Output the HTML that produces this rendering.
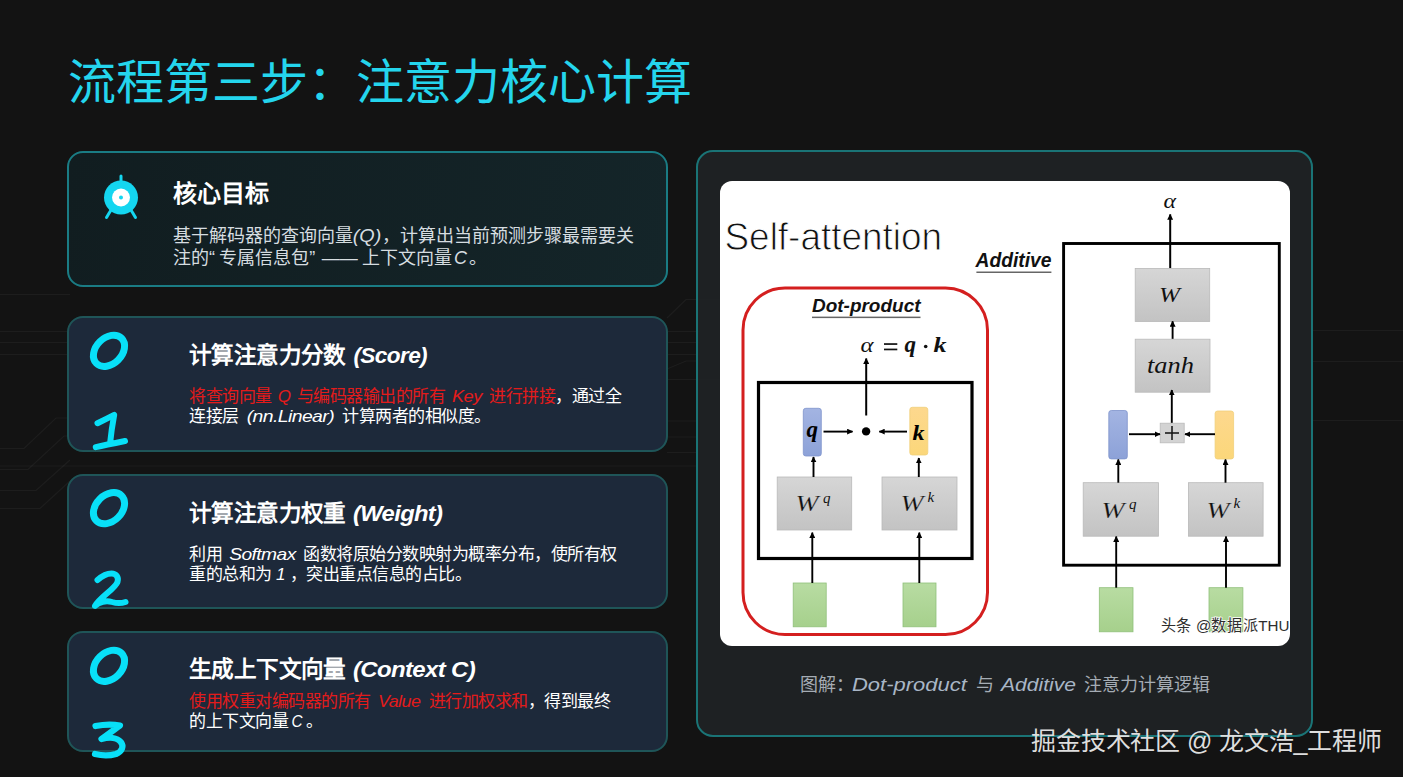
<!DOCTYPE html>
<html lang="zh-CN"><head><meta charset="utf-8">
<style>
html,body{margin:0;padding:0}
body{width:1403px;height:777px;overflow:hidden;background:#131313;position:relative;font-family:"Liberation Sans",sans-serif}
.abs{position:absolute}
.title{left:68px;top:52.5px;font-size:48px;color:#24d5ed;white-space:nowrap;line-height:60px}
.card{position:absolute;left:66.5px;width:601px;box-sizing:border-box;border-radius:16px}
#c0{top:150.5px;height:136.5px;border:2px solid #1a7c84;background:linear-gradient(100deg,#111d20,#142529)}
#c1{top:316px;height:136px;border:2px solid #1f5558;background:#1d293a}
#c2{top:473.5px;height:135.5px;border:2px solid #1f5558;background:#1d293a}
#c3{top:631px;height:120.5px;border:2px solid #1f5558;background:#1d293a}
.ht{position:absolute;font-weight:bold;color:#fff;white-space:nowrap}
.bt{position:absolute;color:#fff;white-space:nowrap}
.red{color:#e31b1b}
.g{display:inline-block;white-space:nowrap;text-align:center}
.g>i{display:inline-block;font-style:italic;font-family:"Liberation Sans",sans-serif}
.gl{text-align:left}
.gl>i{transform-origin:left center}
#panel{position:absolute;left:696px;top:150px;width:617px;height:587px;box-sizing:border-box;border:2px solid #1a7476;border-radius:17px;background:rgba(32,35,37,0.88)}
#img{position:absolute;left:720px;top:181px;width:570px;height:465px;background:#fff;border-radius:12px}
.cap{position:absolute;top:674px;font-size:18px;line-height:22px;color:#a5acb4;white-space:nowrap}
.caph{font-style:italic;color:#a9b6c6}
.wm{position:absolute;left:1031px;top:720.5px;font-size:25px;letter-spacing:-0.15px;color:#dedede;white-space:nowrap}
</style></head><body>


<svg class="abs" style="left:0;top:0" width="1403" height="777" viewBox="0 0 1403 777">
<g fill="none" stroke="#ffffff" stroke-opacity="0.045" stroke-width="1.2">
  <path d="M0,294.5 H70"/>
  <path d="M0,331.5 H700"/>
  <path d="M0,342.5 H700"/>
  <path d="M0,354.5 H700"/>
  <path d="M1312,330.5 H1403"/>
  <path d="M1312,361.5 H1403"/>
  <path d="M1312,420.5 H1403"/>
  <path d="M667,318 L686,299.5 H720"/>
  <path d="M667,369 L686,361 H720"/>
  <path d="M667,379.5 H720"/>
  <path d="M667,421 H720"/>
  <path d="M667,437 H720"/>
  <path d="M667,452.5 H697"/>
  <path d="M0,466 H720"/>
  <path d="M0,448.5 H24 L56,418 H70"/>
  <path d="M0,469.5 H28 L64,436 H70"/>
  <path d="M0,490.5 H36 L70,460"/>
  <path d="M0,508.5 H40 L70,481"/>
</g>
</svg>

<div class="abs title">流程第三步：注意力核心计算</div>

<div class="card" id="c0"></div>
<div class="card" id="c1"></div>
<div class="card" id="c2"></div>
<div class="card" id="c3"></div>

<div class="ht" style="left:173px;top:180px;font-size:24px;line-height:28px">核心目标</div>
<div class="bt" style="left:173px;top:225px;font-size:18px;line-height:22px;color:#d6dde0">基于解码器的查询向量<span class="g" style="width:28.9px"><i style="transform:scaleX(1.1)">(Q)</i></span>，计算出当前预测步骤最需要关<br>注的<span class="g gl" style="width:10.2px">“</span>专属信息包<span class="g gl" style="width:10px">”</span><span class="g gl" style="width:42.4px;padding-left:2.6px;box-sizing:border-box">——</span>上下文向量<span class="g" style="width:17.9px"><i>C</i></span>。</div>

<div class="ht" style="left:189px;top:342px;font-size:22.6px;letter-spacing:-0.6px;line-height:28px">计算注意力分数<span class="g gl" style="width:86.3px;padding-left:7.6px;box-sizing:border-box"><i>(Score)</i></span></div>
<div class="bt" style="left:189px;top:387px;font-size:17px;letter-spacing:-0.5px;line-height:20.3px"><span class="red">将查询向量<span class="g" style="width:25.3px"><i>Q</i></span>与编码器输出的所有<span class="g" style="width:44.1px"><i style="transform:scaleX(1.07)">Key</i></span>进行拼接</span>，通过全<br>连接层<span class="g" style="width:103.8px"><i style="transform:scaleX(1.14)">(nn.Linear)</i></span>计算两者的相似度。</div>

<div class="ht" style="left:189px;top:499.5px;font-size:22.6px;letter-spacing:-0.6px;line-height:28px">计算注意力权重<span class="g gl" style="width:103.3px;padding-left:7.6px;box-sizing:border-box"><i style="transform:scaleX(1.05)">(Weight)</i></span></div>
<div class="bt" style="left:189px;top:545px;font-size:17px;letter-spacing:-0.5px;line-height:20.3px">利用<span class="g" style="width:81.2px"><i style="transform:scaleX(1.13)">Softmax</i></span>函数将原始分数映射为概率分布，使所有权<br>重的总和为<span class="g" style="width:18.2px"><i>1</i></span>，突出重点信息的占比。</div>

<div class="ht" style="left:189px;top:655.5px;font-size:22.6px;letter-spacing:-0.6px;line-height:28px">生成上下文向量<span class="g gl" style="width:137px;padding-left:7.6px;box-sizing:border-box"><i style="transform:scaleX(1.06)">(Context C)</i></span></div>
<div class="bt" style="left:189px;top:691.5px;font-size:17px;letter-spacing:-0.5px;line-height:20.3px"><span class="red">使用权重对编码器的所有<span class="g" style="width:58.2px"><i style="transform:scaleX(1.05)">Value</i></span>进行加权求和</span>，得到最终<br>的上下文向量<span class="g" style="width:18.2px"><i style="transform:scaleX(0.9)">C</i></span>。</div>

<div id="panel"></div>
<div id="img"></div>

<svg class="abs" style="left:0;top:0" width="1403" height="777" viewBox="0 0 1403 777">
<defs>
  <linearGradient id="gg" x1="0" y1="0" x2="0" y2="1"><stop offset="0" stop-color="#d6d6d6"/><stop offset="1" stop-color="#c3c3c3"/></linearGradient>
  <linearGradient id="gb" x1="0" y1="0" x2="0" y2="1"><stop offset="0" stop-color="#a3b4e2"/><stop offset="1" stop-color="#8da2d8"/></linearGradient>
  <linearGradient id="gy" x1="0" y1="0" x2="0" y2="1"><stop offset="0" stop-color="#fdd88e"/><stop offset="1" stop-color="#fbd77a"/></linearGradient>
  <linearGradient id="gr" x1="0" y1="0" x2="0" y2="1"><stop offset="0" stop-color="#b8dca2"/><stop offset="1" stop-color="#a6d08c"/></linearGradient>
  <marker id="ah" viewBox="0 0 10 10" refX="9" refY="5" markerWidth="6" markerHeight="6" markerUnits="userSpaceOnUse" orient="auto"><path d="M0,0 L10,5 L0,10 z" fill="#000"/></marker>
</defs>
<g fill="none" stroke="#14d6f0" stroke-width="3" stroke-linecap="round">
  <line x1="121" y1="176" x2="121" y2="182"/>
  <line x1="111" y1="210" x2="106.5" y2="217.5"/>
  <line x1="131" y1="210" x2="135.5" y2="217.5"/>
</g>
<circle cx="121" cy="197.5" r="17" fill="#14d6f0"/>
<circle cx="121" cy="197.5" r="9" fill="#fff"/>
<circle cx="121" cy="197.5" r="2" fill="#14d6f0"/>
<!-- Self-attention title -->
<text x="724.5" y="249.6" font-family="Liberation Sans" font-size="38.5" fill="#111" stroke="#fff" stroke-width="0.9" textLength="217.5" lengthAdjust="spacingAndGlyphs">Self-attention</text>

<!-- Dot-product -->
<rect x="743" y="288" width="244.5" height="346.5" rx="42" fill="none" stroke="#d41f1f" stroke-width="3"/>
<text x="812" y="312" font-family="Liberation Sans" font-weight="bold" font-style="italic" font-size="18.5" fill="#111" textLength="108.5" lengthAdjust="spacingAndGlyphs">Dot-product</text>
<rect x="812" y="316.6" width="108.5" height="1.5" fill="#666"/>
<text x="860.5" y="352" font-family="Liberation Serif" font-style="italic" font-size="22" fill="#111" textLength="13" lengthAdjust="spacingAndGlyphs">α</text>
<rect x="884" y="343.2" width="13.3" height="1.7" fill="#111"/><rect x="884" y="348.6" width="13.3" height="1.7" fill="#111"/>
<text x="904.5" y="352" font-family="Liberation Serif" font-weight="bold" font-style="italic" font-size="23" fill="#111">q</text>
<circle cx="925.7" cy="346.5" r="1.8" fill="#111"/>
<text x="933.5" y="352" font-family="Liberation Serif" font-weight="bold" font-style="italic" font-size="21" fill="#111" textLength="13" lengthAdjust="spacingAndGlyphs">k</text>
<rect x="758.5" y="382.5" width="213.5" height="176" fill="none" stroke="#000" stroke-width="3.2"/>
<line x1="866.2" y1="415.5" x2="866.2" y2="358.5" stroke="#000" stroke-width="2" marker-end="url(#ah)"/>
<rect x="803.3" y="408.3" width="18" height="47.7" rx="2.5" fill="url(#gb)" stroke="#7e93cc" stroke-width="0.8"/>
<rect x="909.8" y="407.3" width="18" height="47.7" rx="2.5" fill="url(#gy)" stroke="#f0cf7a" stroke-width="0.8"/>
<text x="806.5" y="437" font-family="Liberation Serif" font-weight="bold" font-style="italic" font-size="23" fill="#000">q</text>
<text x="912.5" y="439.5" font-family="Liberation Serif" font-weight="bold" font-style="italic" font-size="22" fill="#000" textLength="12" lengthAdjust="spacingAndGlyphs">k</text>
<circle cx="866.1" cy="431.4" r="4.2" fill="#000"/>
<line x1="823.5" y1="431.6" x2="852.5" y2="431.6" stroke="#000" stroke-width="1.9" marker-end="url(#ah)"/>
<line x1="907" y1="431.6" x2="879.3" y2="431.6" stroke="#000" stroke-width="1.9" marker-end="url(#ah)"/>
<rect x="777.2" y="477" width="74.5" height="53" fill="url(#gg)" stroke="#b9b9b9" stroke-width="0.8"/>
<rect x="882" y="477" width="75" height="53" fill="url(#gg)" stroke="#b9b9b9" stroke-width="0.8"/>
<text x="795.5" y="511.2" font-family="Liberation Serif" font-style="italic" font-size="22.5" fill="#111" stroke="#d0d0d0" stroke-width="0.2" textLength="23" lengthAdjust="spacingAndGlyphs">W</text>
<text x="823.0" y="502.5" font-family="Liberation Serif" font-style="italic" font-size="15" fill="#111">q</text>
<text x="900.5" y="511.2" font-family="Liberation Serif" font-style="italic" font-size="22.5" fill="#111" stroke="#d0d0d0" stroke-width="0.2" textLength="23" lengthAdjust="spacingAndGlyphs">W</text>
<text x="927.5" y="501.5" font-family="Liberation Serif" font-style="italic" font-size="15" fill="#111">k</text>
<line x1="813.5" y1="477" x2="813.5" y2="457" stroke="#000" stroke-width="1.9" marker-end="url(#ah)"/>
<line x1="918.8" y1="477" x2="918.8" y2="458" stroke="#000" stroke-width="1.9" marker-end="url(#ah)"/>
<rect x="793.2" y="583" width="33" height="43.8" fill="url(#gr)" stroke="#8fc07a" stroke-width="0.8"/>
<rect x="903" y="583" width="33" height="43.8" fill="url(#gr)" stroke="#8fc07a" stroke-width="0.8"/>
<line x1="812.3" y1="583" x2="812.3" y2="532.6" stroke="#000" stroke-width="1.9" marker-end="url(#ah)"/>
<line x1="919.3" y1="583" x2="919.3" y2="532.6" stroke="#000" stroke-width="1.9" marker-end="url(#ah)"/>

<!-- Additive -->
<text x="975.5" y="267" font-family="Liberation Sans" font-weight="bold" font-style="italic" font-size="19.5" fill="#111" textLength="76" lengthAdjust="spacingAndGlyphs">Additive</text>
<rect x="976.4" y="271.5" width="75" height="1.5" fill="#666"/>
<text x="1163.5" y="208" font-family="Liberation Serif" font-style="italic" font-size="21" fill="#111" textLength="12.5" lengthAdjust="spacingAndGlyphs">α</text>
<rect x="1063.6" y="243.5" width="215.7" height="321.7" fill="none" stroke="#000" stroke-width="2.9"/>
<line x1="1170.2" y1="268.4" x2="1170.2" y2="214.4" stroke="#000" stroke-width="2" marker-end="url(#ah)"/>
<rect x="1135.2" y="268.4" width="74.5" height="53.1" fill="url(#gg)" stroke="#b9b9b9" stroke-width="0.8"/>
<text x="1159" y="302.4" font-family="Liberation Serif" font-style="italic" font-size="22" fill="#111" textLength="21" lengthAdjust="spacingAndGlyphs">W</text>
<line x1="1172.6" y1="339" x2="1172.6" y2="321.3" stroke="#000" stroke-width="1.9" marker-end="url(#ah)"/>
<rect x="1135.2" y="339.2" width="74.8" height="53" fill="url(#gg)" stroke="#b9b9b9" stroke-width="0.8"/>
<text x="1147" y="373.3" font-family="Liberation Serif" font-style="italic" font-size="22.5" fill="#111" textLength="47" lengthAdjust="spacingAndGlyphs">tanh</text>
<line x1="1171.8" y1="423" x2="1171.8" y2="390" stroke="#000" stroke-width="1.9" marker-end="url(#ah)"/>
<rect x="1160.2" y="423.2" width="24" height="19.6" fill="#d3d3d3" stroke="#b9b9b9" stroke-width="0.8"/>
<path d="M1165,433 h14 M1172,426 v14" stroke="#111" stroke-width="1.5"/>
<rect x="1108.8" y="410.5" width="18.5" height="48.4" rx="2.5" fill="url(#gb)" stroke="#7e93cc" stroke-width="0.8"/>
<rect x="1215.1" y="411" width="18.5" height="48" rx="2.5" fill="url(#gy)" stroke="#f0cf7a" stroke-width="0.8"/>
<line x1="1129" y1="434.2" x2="1160" y2="434.2" stroke="#000" stroke-width="1.9" marker-end="url(#ah)"/>
<line x1="1215" y1="434.2" x2="1185" y2="434.2" stroke="#000" stroke-width="1.9" marker-end="url(#ah)"/>
<rect x="1083.2" y="482.7" width="75.3" height="53.5" fill="url(#gg)" stroke="#b9b9b9" stroke-width="0.8"/>
<rect x="1188.4" y="482.7" width="74.7" height="53.5" fill="url(#gg)" stroke="#b9b9b9" stroke-width="0.8"/>
<text x="1101.5" y="517.5" font-family="Liberation Serif" font-style="italic" font-size="22.5" fill="#111" stroke="#d0d0d0" stroke-width="0.2" textLength="23" lengthAdjust="spacingAndGlyphs">W</text>
<text x="1129.0" y="508.5" font-family="Liberation Serif" font-style="italic" font-size="15" fill="#111">q</text>
<text x="1206.5" y="517.5" font-family="Liberation Serif" font-style="italic" font-size="22.5" fill="#111" stroke="#d0d0d0" stroke-width="0.2" textLength="23" lengthAdjust="spacingAndGlyphs">W</text>
<text x="1233.5" y="507.5" font-family="Liberation Serif" font-style="italic" font-size="15" fill="#111">k</text>
<line x1="1118.3" y1="482.7" x2="1118.3" y2="459.5" stroke="#000" stroke-width="1.9" marker-end="url(#ah)"/>
<line x1="1225.5" y1="482.7" x2="1225.5" y2="459.5" stroke="#000" stroke-width="1.9" marker-end="url(#ah)"/>
<rect x="1099.3" y="587.7" width="33.7" height="44.1" fill="url(#gr)" stroke="#8fc07a" stroke-width="0.8"/>
<rect x="1209" y="587.7" width="33.9" height="44.1" fill="url(#gr)" stroke="#8fc07a" stroke-width="0.8"/>
<line x1="1116.2" y1="587.7" x2="1116.2" y2="536.5" stroke="#000" stroke-width="1.9" marker-end="url(#ah)"/>
<line x1="1226" y1="587.7" x2="1226" y2="536.5" stroke="#000" stroke-width="1.9" marker-end="url(#ah)"/>
<text x="1160.5" y="630.5" font-family="Liberation Sans" font-size="15.5" fill="#2e2e2e" stroke="#fff" stroke-width="1.4" paint-order="stroke" textLength="129" lengthAdjust="spacingAndGlyphs">头条 @数据派THU</text>

<!-- digits -->
<g fill="none" stroke="#08e0f8" stroke-linecap="round" stroke-linejoin="round">
  <ellipse cx="109" cy="350.8" rx="17.8" ry="13" transform="rotate(-45 109 350.8)" stroke-width="7"/>
  <ellipse cx="109" cy="508.2" rx="17.8" ry="13" transform="rotate(-45 109 508.2)" stroke-width="7"/>
  <ellipse cx="109" cy="665.8" rx="17.8" ry="13" transform="rotate(-45 109 665.8)" stroke-width="7"/>
  <path d="M97.5,423.2 C103,420.5 109,417.5 114.2,414.8 C112.5,424 111,434 110,444 M95.8,447.2 C105,445 115,443 125,441" stroke-width="6"/>
  <path d="M97.5,580 C102,576 107,573.5 111.5,573.5 C116,573.5 119,577 117.5,582 C115,589 100,597 95,606 C99,602 106,600 112,602 C117,603.5 121,603.5 125.5,602" stroke-width="6"/>
  <path d="M95.5,726 C103,724.5 112,724 120,725.5 C114,730 107,735 101.5,739 C109,737 117,737.5 120.8,742 C124,746 122.5,751.5 116,754 C109,756 101,755.5 95,754" stroke-width="6.2"/>
</g>

</svg>
<div class="cap" style="left:800px">图解：</div>
<div class="cap caph" style="left:852px"><span class="g gl" style="width:117px"><i style="transform:scaleX(1.22)">Dot-product</i></span></div>
<div class="cap" style="left:976px">与</div>
<div class="cap caph" style="left:1001px"><span class="g gl" style="width:77px"><i style="transform:scaleX(1.17)">Additive</i></span></div>
<div class="cap" style="left:1084px">注意力计算逻辑</div>
<div class="wm">掘金技术社区 @ 龙文浩_工程师</div>
</body></html>
